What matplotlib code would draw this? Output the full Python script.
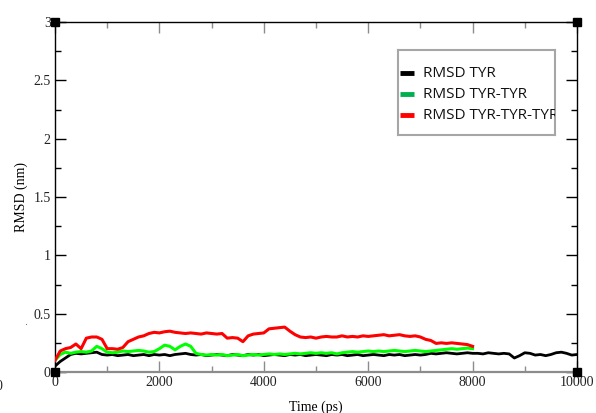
import numpy as np
import matplotlib
matplotlib.use("Agg")
import matplotlib.pyplot as plt
from matplotlib.ticker import MultipleLocator

# ---- data ----
time_tyr = list(range(0, 10001, 100))
rmsd_tyr = [0.05, 0.09, 0.12, 0.15, 0.16, 0.155, 0.16, 0.165, 0.17, 0.15,
            0.145, 0.15, 0.14, 0.145, 0.15, 0.14, 0.145, 0.15, 0.14, 0.15,
            0.145, 0.15, 0.14, 0.15, 0.155, 0.16, 0.15, 0.145, 0.15, 0.14,
            0.145, 0.15, 0.145, 0.14, 0.15, 0.145, 0.14, 0.15, 0.145, 0.15,
            0.14, 0.145, 0.15, 0.145, 0.14, 0.15, 0.145, 0.15, 0.14, 0.145,
            0.15, 0.145, 0.14, 0.15, 0.145, 0.15, 0.14, 0.145, 0.15, 0.14,
            0.145, 0.15, 0.145, 0.14, 0.15, 0.145, 0.15, 0.14, 0.145, 0.15,
            0.145, 0.15, 0.16, 0.155, 0.16, 0.165, 0.16, 0.155, 0.16, 0.165,
            0.16, 0.16, 0.155, 0.165, 0.16, 0.155, 0.16, 0.155, 0.12, 0.14,
            0.165, 0.16, 0.145, 0.15, 0.14, 0.15, 0.165, 0.17, 0.16, 0.145,
            0.15]

time_di = list(range(0, 8001, 100))
rmsd_di = [0.1, 0.15, 0.17, 0.16, 0.17, 0.175, 0.17, 0.18, 0.22, 0.2,
           0.17, 0.165, 0.17, 0.18, 0.175, 0.18, 0.185, 0.18, 0.17, 0.175,
           0.2, 0.23, 0.22, 0.19, 0.22, 0.24, 0.22, 0.16, 0.15, 0.145,
           0.15, 0.145, 0.15, 0.14, 0.145, 0.15, 0.14, 0.145, 0.15, 0.145,
           0.15, 0.155, 0.15, 0.155, 0.15, 0.155, 0.16, 0.155, 0.16, 0.165,
           0.16, 0.165, 0.16, 0.165, 0.155, 0.165, 0.17, 0.175, 0.17, 0.175,
           0.18, 0.175, 0.18, 0.175, 0.18, 0.185, 0.18, 0.175, 0.18, 0.185,
           0.18, 0.175, 0.18, 0.185, 0.19, 0.195, 0.2, 0.195, 0.2, 0.205,
           0.2]

time_tri = list(range(0, 8001, 100))
rmsd_tri = [0.1, 0.18, 0.2, 0.21, 0.24, 0.2, 0.29, 0.3, 0.3, 0.28,
            0.2, 0.2, 0.195, 0.21, 0.26, 0.28, 0.3, 0.31, 0.33, 0.34,
            0.335, 0.345, 0.35, 0.34, 0.335, 0.33, 0.335, 0.33, 0.325, 0.335,
            0.33, 0.325, 0.33, 0.29, 0.295, 0.29, 0.26, 0.31, 0.325, 0.33,
            0.335, 0.37, 0.375, 0.38, 0.385, 0.35, 0.32, 0.3, 0.295, 0.3,
            0.29, 0.3, 0.305, 0.3, 0.3, 0.31, 0.3, 0.305, 0.3, 0.31,
            0.305, 0.31, 0.315, 0.32, 0.31, 0.315, 0.32, 0.31, 0.305, 0.31,
            0.3, 0.28, 0.27, 0.245, 0.25, 0.245, 0.25, 0.245, 0.24, 0.235,
            0.22]

labels = ["RMSD TYR", "RMSD TYR-TYR", "RMSD TYR-TYR-TYR"]
legend_colors = ["#000000", "#00b050", "#ff0000"]
line_colors = ["#000000", "#00ff00", "#ff0000"]

x_ticks = [0, 2000, 4000, 6000, 8000, 10000]
y_ticks = [0, 0.5, 1, 1.5, 2, 2.5, 3]
y_tick_labels = ["0", "0.5", "1", "1.5", "2", "2.5", "3"]

# ---- figure ----
W, H = 596, 413
fig = plt.figure(figsize=(W / 100, H / 100), dpi=100)
fig.patch.set_facecolor("white")

L, R, B, T = 55, 577, 372, 22
ax = fig.add_axes([L / W, 1 - B / H, (R - L) / W, (B - T) / H])

serif = "Liberation Serif"

ax.plot(time_tyr, rmsd_tyr, color=line_colors[0], lw=2.0, zorder=3)
ax.plot(time_di, rmsd_di, color=line_colors[1], lw=2.2, zorder=4)
ax.plot(time_tri, rmsd_tri, color=line_colors[2], lw=2.2, zorder=5)

ax.set_xlim(0, 10000)
ax.set_ylim(0, 3)
ax.set_xticks(x_ticks)
ax.set_xticklabels([str(v) for v in x_ticks])
ax.set_yticks(y_ticks)
ax.set_yticklabels(y_tick_labels)
ax.xaxis.set_minor_locator(MultipleLocator(1000))
ax.yaxis.set_minor_locator(MultipleLocator(0.25))

ax.tick_params(which="both", direction="in", top=True, right=True,
               labelsize=10, pad=3)
ax.tick_params(which="major", length=8, width=1)
ax.tick_params(which="minor", length=4, width=1)
ax.tick_params(axis="x", which="both", color="#8c8c8c")
for lab in ax.get_xticklabels() + ax.get_yticklabels():
    lab.set_fontfamily(serif)
    lab.set_color("#222222")

for s in ["left", "top", "right"]:
    ax.spines[s].set_color("black")
    ax.spines[s].set_linewidth(1)
ax.spines["bottom"].set_color("#8c8c8c")
ax.spines["bottom"].set_linewidth(1.6)

ax.set_xlabel("Time (ps)", fontfamily=serif, fontsize=10, labelpad=8)
ax.set_ylabel("RMSD (nm)", fontfamily=serif, fontsize=10, labelpad=4)

# corner squares
for cx, cy in [(0, 0), (1, 0), (0, 1), (1, 1)]:
    ax.plot([cx], [cy], marker="s", ms=6, color="black",
            transform=ax.transAxes, clip_on=False, zorder=10)

# ---- legend box (clipped at right edge as in reference) ----
lx0, lx1, ly0, ly1 = 398, 555, 50, 135
lax = fig.add_axes([lx0 / W, 1 - ly1 / H, (lx1 - lx0) / W, (ly1 - ly0) / H])
lax.set_xlim(lx0, lx1)
lax.set_ylim(ly1, ly0)
lax.set_xticks([])
lax.set_yticks([])
lax.patch.set_facecolor("white")
for s in lax.spines.values():
    s.set_color("#a6a6a6")
    s.set_linewidth(1.5)
rows_y = [73, 94, 115]
for yy, lab, col in zip(rows_y, labels, legend_colors):
    lax.plot([400, 414], [yy, yy], color=col, lw=3.5, solid_capstyle="butt")
    lax.text(423, yy, lab, fontsize=11, fontfamily="Open Sans",
             va="center", ha="left", clip_on=True, color="#111111")

# stray marks seen in the reference
fig.text(27 / W, 1 - 327 / H, ".", fontsize=7, color="#555555",
         ha="center", va="bottom")
fig.text(-4 / W, 1 - 386 / H, "0", fontsize=10, fontfamily=serif,
         ha="left", va="center", color="#222222")

fig.savefig("out.png", dpi=100)
